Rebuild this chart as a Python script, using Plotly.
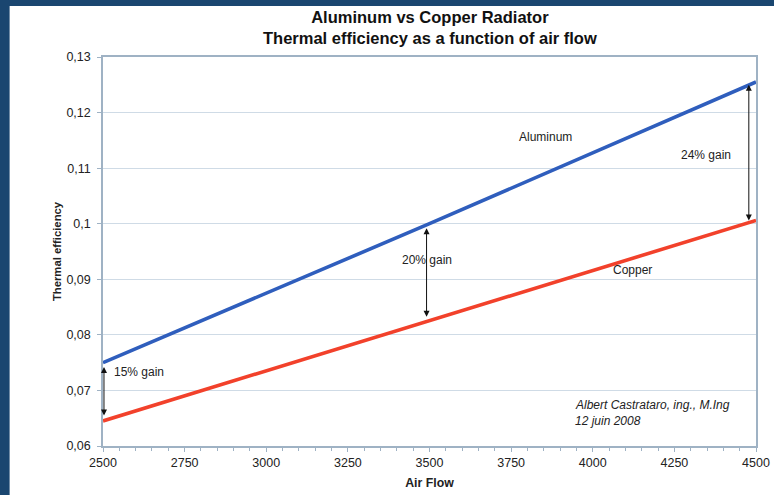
import plotly.graph_objects as go

air_flow = [2500, 3500, 4500]
aluminum = [0.0750, 0.1000, 0.1255]
copper = [0.0645, 0.0826, 0.1006]

arrow_x = [2503, 3491, 4478]
arrow_low = [0.0652, 0.0830, 0.1003]
arrow_high = [0.0742, 0.0992, 0.1250]

gain_labels = ["15% gain", "20% gain", "24% gain"]
gain_x = [2610, 3492, 4347]
gain_y = [0.0733, 0.0935, 0.1124]

series_labels = ["Aluminum", "Copper"]
series_label_x = [3854, 4123]
series_label_y = [0.1156, 0.0917]

y_ticks = [0.06, 0.07, 0.08, 0.09, 0.10, 0.11, 0.12, 0.13]
y_tick_text = ["0,06", "0,07", "0,08", "0,09", "0,1", "0,11", "0,12", "0,13"]
x_ticks = [2500, 2750, 3000, 3250, 3500, 3750, 4000, 4250, 4500]

font_family = "Liberation Sans, Arial, sans-serif"
text_col = "#222222"

fig = go.Figure()
fig.add_trace(go.Scatter(x=air_flow, y=aluminum, mode="lines", name="Aluminum",
                         line=dict(color="#2f5ebd", width=3.6)))
fig.add_trace(go.Scatter(x=air_flow, y=copper, mode="lines", name="Copper",
                         line=dict(color="#f2412b", width=3.6)))

annotations = []
for xa, lo, hi in zip(arrow_x, arrow_low, arrow_high):
    annotations.append(dict(x=xa, y=hi, ax=xa, ay=lo, xref="x", yref="y",
                            axref="x", ayref="y", text="", showarrow=True,
                            arrowhead=2, startarrowhead=2, arrowside="end+start",
                            arrowsize=1.2, startarrowsize=1.2, arrowwidth=1,
                            arrowcolor="#111111"))
for t, xg, yg in zip(gain_labels, gain_x, gain_y):
    annotations.append(dict(x=xg, y=yg, xref="x", yref="y", text=t, showarrow=False,
                            font=dict(size=12, color=text_col, family=font_family)))
for t, xs, ys in zip(series_labels, series_label_x, series_label_y):
    annotations.append(dict(x=xs, y=ys, xref="x", yref="y", text=t, showarrow=False,
                            font=dict(size=12, color=text_col, family=font_family)))
annotations.append(dict(x=3940, y=0.0674, xref="x", yref="y", xanchor="left",
                        text="<i>Albert Castrataro, ing., M.Ing</i>", showarrow=False,
                        font=dict(size=12, color=text_col, family=font_family)))
annotations.append(dict(x=3940, y=0.0645, xref="x", yref="y", xanchor="left",
                        text="<i>12 juin 2008</i>", showarrow=False,
                        font=dict(size=12, color=text_col, family=font_family)))
annotations.append(dict(x=0.5, y=1.076, xref="paper", yref="paper", xanchor="center",
                        yanchor="middle", showarrow=False,
                        text="<b>Aluminum vs Copper Radiator<br>Thermal efficiency as a function of air flow</b>",
                        font=dict(size=16.5, color="#111111", family=font_family)))

shapes = [dict(type="rect", xref="paper", yref="paper", x0=-0.143, x1=1.1,
               y0=-0.2, y1=1.131, fillcolor="white", line=dict(width=0), layer="below")]

fig.update_layout(
    width=774, height=495,
    margin=dict(l=103, r=18, t=57, b=49),
    paper_bgcolor="#1a4670",
    plot_bgcolor="white",
    showlegend=False,
    separators=", ",
    font=dict(family=font_family, color=text_col, size=12),
    shapes=shapes,
    annotations=annotations,
    xaxis=dict(range=[2500, 4500], tickvals=x_ticks, showgrid=False, automargin=False,
               showline=True, linecolor="#9fb2c4", linewidth=1.5, mirror=True,
               ticks="outside", ticklen=4, tickcolor="#9fb2c4",
               minor=dict(dtick=50, ticks="outside", ticklen=3, tickcolor="#9fb2c4"),
               tickfont=dict(size=12.5, color=text_col),
               title=dict(text="<b>Air Flow</b>", font=dict(size=12.3, color=text_col), standoff=10),
               zeroline=False, fixedrange=True),
    yaxis=dict(range=[0.06, 0.13], tickvals=y_ticks, ticktext=y_tick_text, automargin=False,
               showgrid=True, gridcolor="#cfdbe6", gridwidth=1,
               showline=True, linecolor="#9fb2c4", linewidth=1.5, mirror=True,
               ticks="outside", ticklen=4, tickcolor="#9fb2c4", ticklabelstandoff=4,
               tickfont=dict(size=12.5, color=text_col),
               title=dict(text="<b>Thermal efficiency</b>", font=dict(size=11.3, color=text_col), standoff=2),
               zeroline=False, fixedrange=True),
)

fig.write_html("out.html", config={"displayModeBar": False},
               post_script="document.body.style.margin='0';document.body.style.background='#1a4670';")
